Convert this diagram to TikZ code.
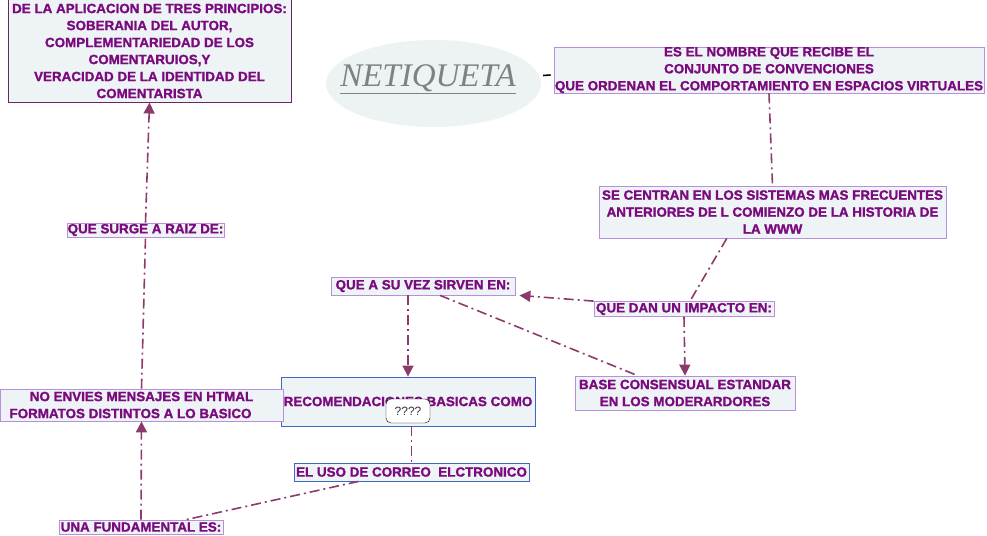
\documentclass[tikz,border=0pt]{standalone}
\usepackage{fontspec}
\setsansfont{Liberation Sans}[BoldFeatures={FakeBold=1.5}]
\newfontfamily\ttlfont{Liberation Serif}
\usetikzlibrary{arrows.meta,shapes.geometric}
\definecolor{txt}{HTML}{7A0A7E}
\definecolor{boxbg}{HTML}{EEF3F5}
\definecolor{lav}{HTML}{B890DA}
\definecolor{dkpurp}{HTML}{6E2462}
\definecolor{bluebd}{HTML}{3C68C0}
\definecolor{con}{HTML}{8C3A6C}
\definecolor{ttlgray}{HTML}{7C8285}
\definecolor{ellbg}{HTML}{EDF3F3}
\newcommand\boxfont{\sffamily\bfseries\fontsize{13.4}{17}\selectfont}

\begin{document}
\begin{tikzpicture}[x=1pt, y=-1pt,
  box/.style={draw=lav, fill=boxbg, line width=0.8pt, inner sep=0pt, align=center, text=txt, font=\boxfont},
  tag/.style={box, minimum height=15pt},
  dd/.style={draw=con, line width=1.6pt, dash pattern=on 10pt off 4pt on 2pt off 4pt},
  arr/.style={dd, -{Triangle[length=11pt, width=11pt]}}]
\useasboundingbox (0,0) rectangle (987,535);
\node[box, draw=dkpurp, line width=1pt, minimum width=283pt, minimum height=102pt] (princ) at (149.5,51) {DE LA APLICACION DE TRES PRINCIPIOS:\\SOBERANIA DEL AUTOR,\\COMPLEMENTARIEDAD DE LOS\\COMENTARUIOS,Y\\VERACIDAD DE LA IDENTIDAD DEL\\COMENTARISTA};
\node[ellipse, fill=ellbg, minimum width=215pt, minimum height=87pt, inner sep=0pt] (net) at (433.5,83.5) {};
\node[font=\ttlfont\itshape\fontsize{33}{33}\selectfont, text=ttlgray, inner sep=0pt] (ttl) at (428,78) {NETIQUETA};
\draw[ttlgray, line width=0.8pt] ([yshift=-7pt]ttl.base west) -- ([yshift=-7pt]ttl.base east);
\node[box, minimum width=430pt, minimum height=46pt] (def) at (769,70) {ES EL NOMBRE QUE RECIBE EL\\CONJUNTO DE CONVENCIONES\\QUE ORDENAN EL COMPORTAMIENTO EN ESPACIOS VIRTUALES};
\node[box, minimum width=347pt, minimum height=52pt] (cent) at (772.5,212) {SE CENTRAN EN LOS SISTEMAS MAS FRECUENTES\\ANTERIORES DE L COMIENZO DE LA HISTORIA DE\\LA WWW};
\node[tag, minimum width=180pt] (dan) at (684,309) {QUE DAN UN IMPACTO EN:};
\node[tag, minimum width=184pt, minimum height=18pt] (vez) at (423,286) {QUE A SU VEZ SIRVEN EN:};
\node[box, minimum width=220pt, minimum height=34pt] (base) at (685,393) {BASE CONSENSUAL ESTANDAR\\EN LOS MODERARDORES};
\node[box, draw=bluebd, minimum width=254pt, minimum height=49pt] (rec) at (408,401.5) {RECOMENDACIONES BASICAS COMO};
\node[draw=black, fill=white, rounded corners=5pt, minimum width=44pt, minimum height=24pt, inner sep=0pt, font=\sffamily\fontsize{12}{12}\selectfont, text=black!80] (q) at (408,411) {????};
\node[tag, draw=bluebd, minimum width=235pt, minimum height=18pt] (uso) at (411.5,472) {EL USO DE CORREO~ ELCTRONICO};
\node[tag, minimum width=164pt, minimum height=14pt] (una) at (141,527) {UNA FUNDAMENTAL ES:};
\node[box, minimum width=283pt, minimum height=32pt] (env) at (141.5,405) {NO ENVIES MENSAJES EN HTMAL\\FORMATOS DISTINTOS A LO BASICO\hspace*{22pt}};
\node[tag, minimum width=157pt, minimum height=14pt] (raiz) at (145.5,230) {QUE SURGE A RAIZ DE:};
\draw[line width=1.6pt] ([xshift=2pt,yshift=8pt]net.east) -- ([xshift=-3pt,yshift=-5pt]def.west);
\draw[dd] (def.south) -- (cent.north);
\draw[dd] (cent.210) -- ([xshift=6pt]dan.north);
\draw[arr] (dan.north west) -- ([xshift=4pt]vez.south east);
\draw[arr] (dan.south) -- (base.north);
\draw[arr] (vez.south -| rec.north) -- (rec.north);
\draw[dd] ([xshift=17pt]vez.south) -- ([xshift=63pt]base.north west);
\draw[dd] (uso.north |- rec.south) -- (uso.north);
\draw[dd] ([xshift=-53pt]uso.south) -- ([xshift=-37pt]una.north east);
\draw[arr] (una.north) -- (env.south);
\draw[dd] (env.north) -- (raiz.south);
\draw[arr] (raiz.north) -- (princ.south);
\end{tikzpicture}
\end{document}
